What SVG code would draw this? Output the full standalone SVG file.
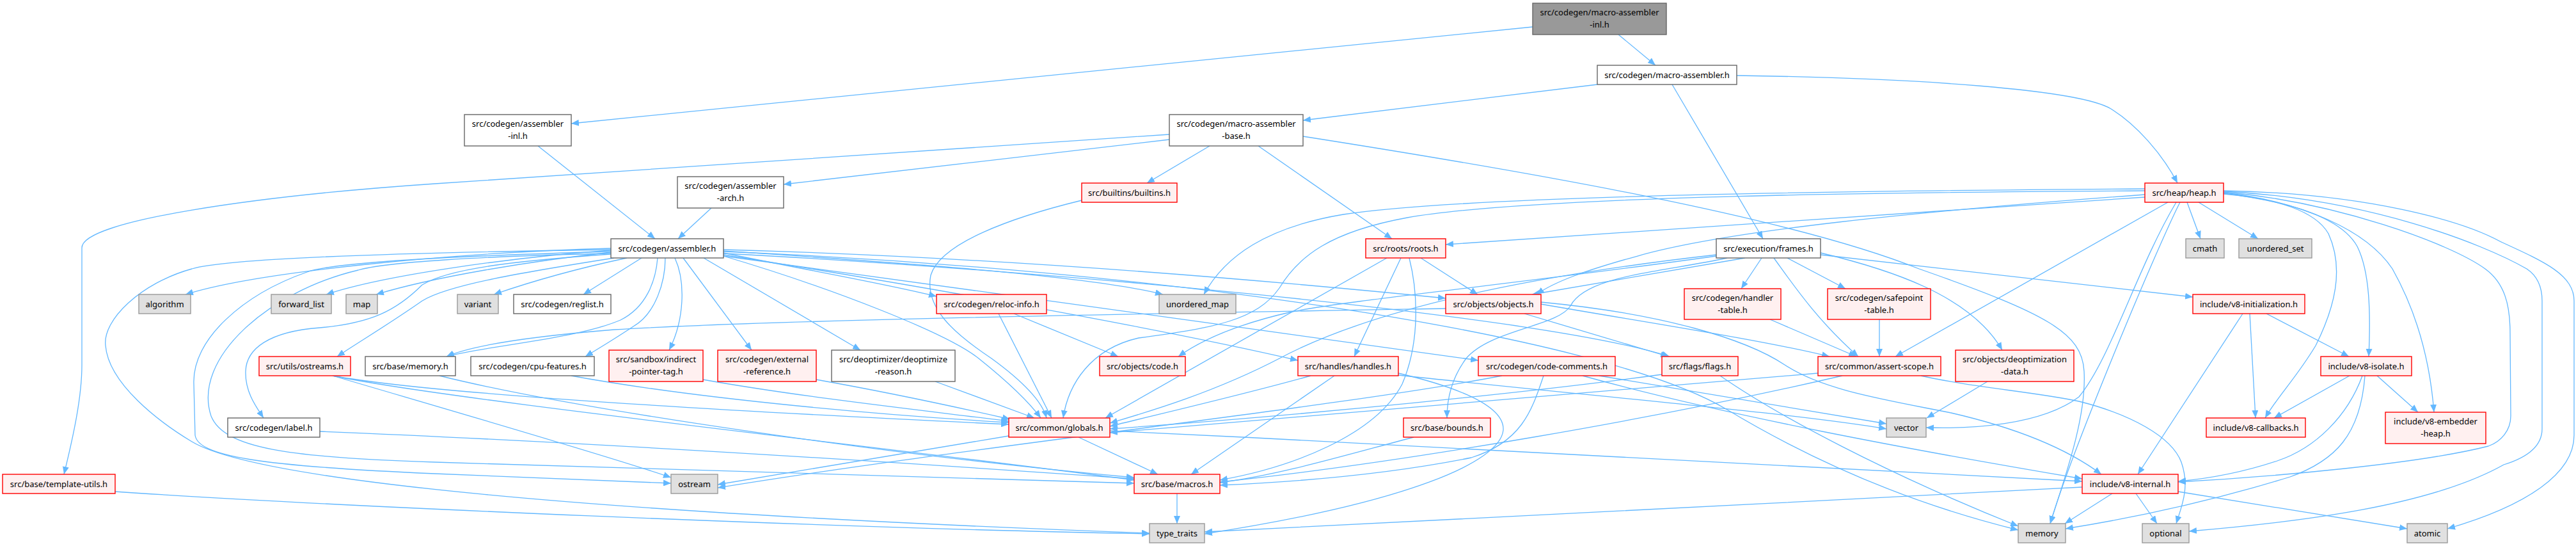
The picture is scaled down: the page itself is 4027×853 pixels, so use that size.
<svg xmlns="http://www.w3.org/2000/svg" width="4027" height="853" viewBox="0 0 4027 853">
<style>
.e{fill:none;stroke:#63b8ff;stroke-width:1.3;marker-end:url(#ah)}
.w{fill:#ffffff;stroke:#666666;stroke-width:1.4}
.r{fill:#fff0f0;stroke:#ff0000;stroke-width:1.4}
.g{fill:#e0e0e0;stroke:#999999;stroke-width:1.4}
.k{fill:#999999;stroke:#666666;stroke-width:1.4}
text{font-family:"Noto Sans","Liberation Sans",sans-serif;font-size:13px;fill:#000;text-anchor:middle}
</style>
<defs>
<marker id="ah" markerUnits="userSpaceOnUse" markerWidth="12" markerHeight="10" refX="12" refY="5" orient="auto">
<path d="M0,0 L12,5 L0,10 z" fill="#63b8ff"/>
</marker>
</defs>
<rect x="0" y="0" width="4027" height="853" fill="#ffffff"/>
<g id="edges">
<path class="e" d="M2396,42 L893,193"/>
<path class="e" d="M2530,54 L2588,102"/>
<path class="e" d="M2497,132 L2037,188"/>
<path class="e" d="M2614,132 L2756,373"/>
<path class="e" d="M2715,118 C3000,122 3250,140 3300,170 C3340,195 3380,240 3404,286"/>
<path class="e" d="M841,228 L1024,373"/>
<path class="e" d="M1828,218 L1225,288"/>
<path class="e" d="M1828,210 L680,287 C400,306 128,345 128,387 L128,570 C128,620 115,680 100,741"/>
<path class="e" d="M1891,228 L1793,286"/>
<path class="e" d="M1967,228 L2176,373"/>
<path class="e" d="M2037,213 C2400,270 2800,340 3000,420 C3200,490 3255,520 3258,580 C3262,650 3230,740 3205,818"/>
<path class="e" d="M1112,325 L1060,373"/>
<path class="e" d="M955,388 C700,395 400,425 290,460"/>
<path class="e" d="M955,391 C800,402 600,430 510,460"/>
<path class="e" d="M955,394 C830,408 680,432 588,460"/>
<path class="e" d="M960,403 C820,425 700,445 660,470 C610,505 560,535 527,557"/>
<path class="e" d="M955,397 C800,408 700,420 660,445 C620,485 580,505 500,512 C420,518 385,545 384,580 C383,612 400,635 412,653"/>
<path class="e" d="M980,403 C900,420 830,440 772,460"/>
<path class="e" d="M1003,403 L912,460"/>
<path class="e" d="M1028,403 C1025,440 1010,480 970,500 C900,530 760,540 698,557"/>
<path class="e" d="M1040,403 C1040,440 1025,490 990,510 C960,530 935,545 915,557"/>
<path class="e" d="M1055,403 C1072,440 1070,500 1046,547"/>
<path class="e" d="M1068,403 L1175,547"/>
<path class="e" d="M1100,403 L1345,547"/>
<path class="e" d="M1131,395 C1250,420 1380,442 1464,463"/>
<path class="e" d="M1131,400 C1300,450 1480,520 1530,560 C1580,600 1610,630 1627,653"/>
<path class="e" d="M1131,392 C1400,410 1700,430 1818,460"/>
<path class="e" d="M1131,390 C1500,400 1900,430 2260,466"/>
<path class="e" d="M1131,398 C1400,440 1800,510 2029,563"/>
<path class="e" d="M1131,400 C1500,450 2000,520 2311,563"/>
<path class="e" d="M1131,396 C1600,420 2400,490 2610,557"/>
<path class="e" d="M955,396 C750,400 600,410 560,422 C420,455 300,560 330,650 C350,700 450,715 680,722 C1100,735 1500,745 1773,755"/>
<path class="e" d="M955,393 C700,400 520,410 480,425 C380,460 300,530 303,600 L305,680 C310,712 400,728 680,740 C850,748 980,752 1049,755"/>
<path class="e" d="M955,390 C600,395 350,405 300,420 C220,442 160,500 165,540 C170,600 250,660 300,690 C400,750 900,800 1797,833"/>
<path class="e" d="M1131,393 C1800,420 2500,520 2700,640 C2850,730 3000,790 3155,828"/>
<path class="e" d="M1691,313 C1580,340 1470,380 1455,430 C1445,480 1490,520 1550,560 C1605,600 1630,630 1636,653"/>
<path class="e" d="M2168,403 L1728,653"/>
<path class="e" d="M2190,403 L2117,557"/>
<path class="e" d="M2203,403 C2215,450 2222,530 2192,600 C2150,680 2020,730 1907,750"/>
<path class="e" d="M2221,403 L2310,460"/>
<path class="e" d="M3353,308 L2260,382"/>
<path class="e" d="M3353,304 C3000,330 2700,360 2560,400 C2480,422 2430,440 2402,460"/>
<path class="e" d="M3353,298 C3000,300 2400,305 2200,340 C2080,362 2030,400 2000,450 C1965,500 1900,512 1780,528 C1705,545 1670,600 1662,653"/>
<path class="e" d="M3353,295 C2900,298 2300,305 2100,335 C1980,355 1915,400 1882,460"/>
<path class="e" d="M3389,316 L2963,557"/>
<path class="e" d="M3402,316 C3340,420 3300,560 3250,620 C3190,665 3080,670 3011,668"/>
<path class="e" d="M3408,316 C3375,380 3240,700 3205,818"/>
<path class="e" d="M3419,316 L3440,373"/>
<path class="e" d="M3437,316 L3530,373"/>
<path class="e" d="M3476,303 C3560,310 3620,330 3640,365 C3665,420 3650,480 3620,540 C3590,590 3560,620 3541,653"/>
<path class="e" d="M3476,302 C3580,315 3660,340 3685,385 C3705,425 3706,490 3703,557"/>
<path class="e" d="M3476,301 C3600,315 3700,360 3740,420 C3785,500 3800,580 3805,644"/>
<path class="e" d="M3476,300 C3650,315 3830,380 3885,420 C3915,442 3924,475 3924,520 L3925,650 C3925,672 3910,690 3890,697 C3780,725 3550,745 3405,753"/>
<path class="e" d="M3476,299 C3700,310 3880,380 3950,420 C3968,432 3974,450 3974,470 L3974,670 C3974,698 3950,715 3914,726 C3800,790 3600,815 3422,830"/>
<path class="e" d="M3476,298 C3700,302 3850,345 3910,378 C3980,410 4024,430 4024,470 L4024,680 C4024,740 3950,790 3826,826"/>
<path class="e" d="M2754,403 L2722,451"/>
<path class="e" d="M2728,403 L2395,460"/>
<path class="e" d="M2773,403 C2800,440 2840,500 2905,557"/>
<path class="e" d="M2794,403 L2885,451"/>
<path class="e" d="M2846,395 C2950,420 3080,460 3130,547"/>
<path class="e" d="M2700,403 C2600,425 2480,430 2455,478 C2435,510 2330,515 2292,560 C2266,595 2262,630 2262,653"/>
<path class="e" d="M2683,398 C2400,430 2150,480 2000,560 C1900,612 1800,642 1735,661"/>
<path class="e" d="M2683,400 C2400,440 2100,470 2020,487 C1940,505 1880,530 1842,557"/>
<path class="e" d="M2846,398 L3428,464"/>
<path class="e" d="M2260,482 C1800,490 1200,500 960,515 C800,528 730,543 698,557"/>
<path class="e" d="M2383,490 L2608,557"/>
<path class="e" d="M2409,475 C2550,500 2750,530 2860,557"/>
<path class="e" d="M2409,472 C2600,490 2730,530 2790,570 C2850,610 2950,625 3050,645 C3150,668 3230,700 3285,741"/>
<path class="e" d="M1686,683 L1810,741"/>
<path class="e" d="M1577,681 L1122,757"/>
<path class="e" d="M1735,673 C2300,700 2900,730 3255,752"/>
<path class="e" d="M2348,587 C2100,635 1500,700 1122,762"/>
<path class="e" d="M2413,587 C2395,640 2380,690 2300,715 C2150,745 2000,754 1907,758"/>
<path class="e" d="M2474,587 C2700,650 3000,705 3255,748"/>
<path class="e" d="M2500,587 C2700,620 2850,645 2949,662"/>
<path class="e" d="M2049,587 C1950,615 1820,645 1735,666"/>
<path class="e" d="M2086,587 L1862,741"/>
<path class="e" d="M2186,583 C2300,610 2352,640 2350,672 C2345,722 2200,785 1883,834"/>
<path class="e" d="M2186,586 C2500,620 2800,645 2949,670"/>
<path class="e" d="M2598,585 C2400,612 2050,648 1735,670"/>
<path class="e" d="M2689,587 C2780,650 2950,740 3155,822"/>
<path class="e" d="M2842,583 C2400,622 2000,652 1735,676"/>
<path class="e" d="M2880,587 C2600,652 2200,722 1907,753"/>
<path class="e" d="M3003,587 C3080,605 3180,612 3250,627 C3330,647 3395,682 3410,722 C3424,762 3410,792 3402,818"/>
<path class="e" d="M3107,596 L3012,653"/>
<path class="e" d="M2938,499 L2938,557"/>
<path class="e" d="M2767,499 L2902,557"/>
<path class="e" d="M3506,490 L3342,741"/>
<path class="e" d="M3517,490 L3526,653"/>
<path class="e" d="M3543,490 L3672,557"/>
<path class="e" d="M3673,587 L3555,653"/>
<path class="e" d="M3716,587 L3780,644"/>
<path class="e" d="M3693,587 C3670,650 3620,700 3560,720 C3500,740 3450,748 3405,752"/>
<path class="e" d="M3697,587 C3690,680 3650,720 3580,745 C3450,785 3330,810 3229,826"/>
<path class="e" d="M3302,771 L3228,818"/>
<path class="e" d="M3339,771 L3372,818"/>
<path class="e" d="M3405,768 L3763,826"/>
<path class="e" d="M3255,761 C2800,785 2200,815 1883,831"/>
<path class="e" d="M1840,771 L1840,818"/>
<path class="e" d="M180,768 C500,790 1300,825 1797,834"/>
<path class="e" d="M500,674 C900,690 1400,722 1773,748"/>
<path class="e" d="M520,587 C700,620 1300,650 1577,663"/>
<path class="e" d="M520,587 C700,625 1400,700 1773,750"/>
<path class="e" d="M520,587 C700,640 950,712 1049,746"/>
<path class="e" d="M687,587 C900,640 1400,712 1773,746"/>
<path class="e" d="M893,587 C1100,625 1400,650 1577,660"/>
<path class="e" d="M1099,593 C1250,620 1450,642 1577,658"/>
<path class="e" d="M1276,593 C1400,615 1500,637 1579,655"/>
<path class="e" d="M1462,596 L1617,653"/>
<path class="e" d="M1561,490 L1644,653"/>
<path class="e" d="M1585,490 L1748,557"/>
<path class="e" d="M2210,683 C2100,712 2000,742 1907,754"/>
</g>
<g id="n-mai"><rect class="k" x="2396" y="5" width="209" height="49"/><text x="2500.5" y="24">src/codegen/macro-assembler</text><text x="2500.5" y="43">-inl.h</text></g>
<g id="n-ma"><rect class="w" x="2497" y="102" width="218" height="30"/><text x="2606" y="122">src/codegen/macro-assembler.h</text></g>
<g id="n-asminl"><rect class="w" x="726" y="179" width="167" height="49"/><text x="809.5" y="198">src/codegen/assembler</text><text x="809.5" y="217">-inl.h</text></g>
<g id="n-mab"><rect class="w" x="1828" y="179" width="209" height="49"/><text x="1932.5" y="198">src/codegen/macro-assembler</text><text x="1932.5" y="217">-base.h</text></g>
<g id="n-asmarch"><rect class="w" x="1059" y="276" width="166" height="49"/><text x="1142" y="295">src/codegen/assembler</text><text x="1142" y="314">-arch.h</text></g>
<g id="n-builtins"><rect class="r" x="1691" y="286" width="149" height="30"/><text x="1765.5" y="306">src/builtins/builtins.h</text></g>
<g id="n-heap"><rect class="r" x="3353" y="286" width="123" height="30"/><text x="3414.5" y="306">src/heap/heap.h</text></g>
<g id="n-asm"><rect class="w" x="955" y="373" width="176" height="30"/><text x="1043" y="393">src/codegen/assembler.h</text></g>
<g id="n-roots"><rect class="r" x="2135" y="373" width="125" height="30"/><text x="2197.5" y="393">src/roots/roots.h</text></g>
<g id="n-frames"><rect class="w" x="2683" y="373" width="163" height="30"/><text x="2764.5" y="393">src/execution/frames.h</text></g>
<g id="n-cmath"><rect class="g" x="3417" y="373" width="60" height="30"/><text x="3447" y="393">cmath</text></g>
<g id="n-uset"><rect class="g" x="3500" y="373" width="114" height="30"/><text x="3557" y="393">unordered_set</text></g>
<g id="n-algorithm"><rect class="g" x="217" y="460" width="81" height="30"/><text x="257.5" y="480">algorithm</text></g>
<g id="n-fwdlist"><rect class="g" x="424" y="460" width="94" height="30"/><text x="471" y="480">forward_list</text></g>
<g id="n-map"><rect class="g" x="541" y="460" width="49" height="30"/><text x="565.5" y="480">map</text></g>
<g id="n-variant"><rect class="g" x="715" y="460" width="64" height="30"/><text x="747" y="480">variant</text></g>
<g id="n-reglist"><rect class="w" x="803" y="460" width="152" height="30"/><text x="879" y="480">src/codegen/reglist.h</text></g>
<g id="n-reloc"><rect class="r" x="1464" y="460" width="172" height="30"/><text x="1550" y="480">src/codegen/reloc-info.h</text></g>
<g id="n-umap"><rect class="g" x="1812" y="460" width="120" height="30"/><text x="1872" y="480">unordered_map</text></g>
<g id="n-objects"><rect class="r" x="2260" y="460" width="149" height="30"/><text x="2334.5" y="480">src/objects/objects.h</text></g>
<g id="n-handler"><rect class="r" x="2633" y="451" width="151" height="48"/><text x="2708.5" y="470">src/codegen/handler</text><text x="2708.5" y="489">-table.h</text></g>
<g id="n-safepoint"><rect class="r" x="2857" y="451" width="161" height="48"/><text x="2937.5" y="470">src/codegen/safepoint</text><text x="2937.5" y="489">-table.h</text></g>
<g id="n-v8init"><rect class="r" x="3428" y="460" width="175" height="30"/><text x="3515.5" y="480">include/v8-initialization.h</text></g>
<g id="n-ostreams"><rect class="r" x="405" y="557" width="143" height="30"/><text x="476.5" y="577">src/utils/ostreams.h</text></g>
<g id="n-bmemory"><rect class="w" x="571" y="557" width="141" height="30"/><text x="641.5" y="577">src/base/memory.h</text></g>
<g id="n-cpu"><rect class="w" x="736" y="557" width="193" height="30"/><text x="832.5" y="577">src/codegen/cpu-features.h</text></g>
<g id="n-ipt"><rect class="r" x="952" y="547" width="147" height="49"/><text x="1025.5" y="566">src/sandbox/indirect</text><text x="1025.5" y="585">-pointer-tag.h</text></g>
<g id="n-extref"><rect class="r" x="1122" y="547" width="154" height="49"/><text x="1199" y="566">src/codegen/external</text><text x="1199" y="585">-reference.h</text></g>
<g id="n-deoptreason"><rect class="w" x="1300" y="547" width="193" height="49"/><text x="1396.5" y="566">src/deoptimizer/deoptimize</text><text x="1396.5" y="585">-reason.h</text></g>
<g id="n-code"><rect class="r" x="1719" y="557" width="134" height="30"/><text x="1786" y="577">src/objects/code.h</text></g>
<g id="n-handles"><rect class="r" x="2029" y="557" width="157" height="30"/><text x="2107.5" y="577">src/handles/handles.h</text></g>
<g id="n-comments"><rect class="r" x="2311" y="557" width="214" height="30"/><text x="2418" y="577">src/codegen/code-comments.h</text></g>
<g id="n-flags"><rect class="r" x="2598" y="557" width="119" height="30"/><text x="2657.5" y="577">src/flags/flags.h</text></g>
<g id="n-assert"><rect class="r" x="2842" y="557" width="192" height="30"/><text x="2938" y="577">src/common/assert-scope.h</text></g>
<g id="n-deoptdata"><rect class="r" x="3057" y="547" width="185" height="49"/><text x="3149.5" y="566">src/objects/deoptimization</text><text x="3149.5" y="585">-data.h</text></g>
<g id="n-v8isolate"><rect class="r" x="3628" y="557" width="142" height="30"/><text x="3699" y="577">include/v8-isolate.h</text></g>
<g id="n-label"><rect class="w" x="356" y="653" width="144" height="30"/><text x="428" y="673">src/codegen/label.h</text></g>
<g id="n-globals"><rect class="r" x="1577" y="653" width="158" height="30"/><text x="1656" y="673">src/common/globals.h</text></g>
<g id="n-bounds"><rect class="r" x="2194" y="653" width="136" height="30"/><text x="2262" y="673">src/base/bounds.h</text></g>
<g id="n-vector"><rect class="g" x="2949" y="653" width="62" height="30"/><text x="2980" y="673">vector</text></g>
<g id="n-v8cb"><rect class="r" x="3449" y="653" width="155" height="30"/><text x="3526.5" y="673">include/v8-callbacks.h</text></g>
<g id="n-v8eh"><rect class="r" x="3729" y="644" width="157" height="49"/><text x="3807.5" y="663">include/v8-embedder</text><text x="3807.5" y="682">-heap.h</text></g>
<g id="n-tutils"><rect class="r" x="4" y="741" width="176" height="30"/><text x="92" y="761">src/base/template-utils.h</text></g>
<g id="n-ostream"><rect class="g" x="1049" y="741" width="73" height="30"/><text x="1085.5" y="761">ostream</text></g>
<g id="n-macros"><rect class="r" x="1773" y="741" width="134" height="30"/><text x="1840" y="761">src/base/macros.h</text></g>
<g id="n-v8internal"><rect class="r" x="3255" y="741" width="150" height="30"/><text x="3330" y="761">include/v8-internal.h</text></g>
<g id="n-typetraits"><rect class="g" x="1797" y="818" width="86" height="30"/><text x="1840" y="838">type_traits</text></g>
<g id="n-memory"><rect class="g" x="3155" y="818" width="74" height="30"/><text x="3192" y="838">memory</text></g>
<g id="n-optional"><rect class="g" x="3349" y="818" width="73" height="30"/><text x="3385.5" y="838">optional</text></g>
<g id="n-atomic"><rect class="g" x="3763" y="818" width="63" height="30"/><text x="3794.5" y="838">atomic</text></g>
</svg>
